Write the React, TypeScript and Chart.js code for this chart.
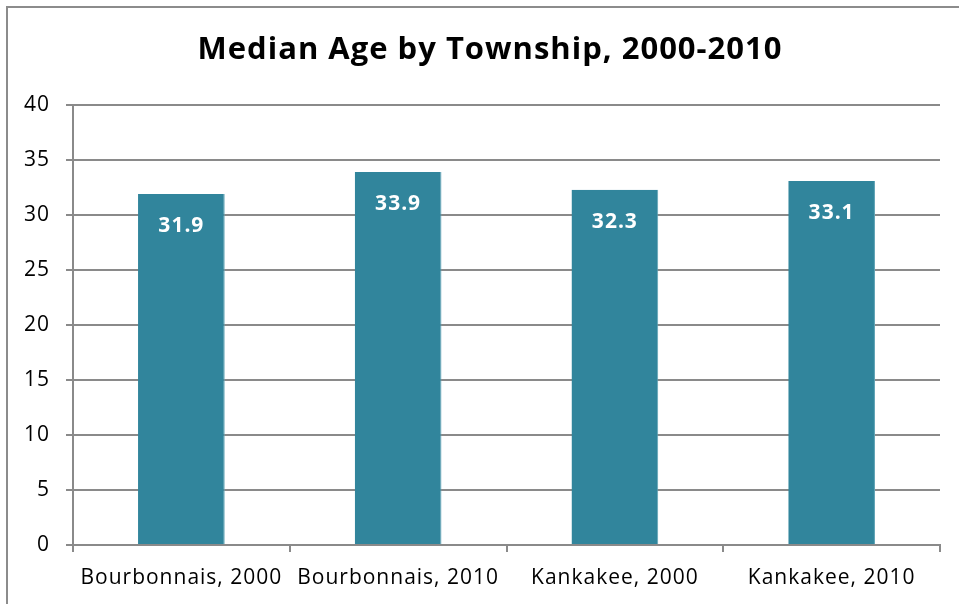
import React, { useEffect, useRef } from "react";
import { Chart, registerables } from "chart.js";

Chart.register(...registerables);

const titleText = "Median Age by Township, 2000-2010";
const categories = ["Bourbonnais, 2000", "Bourbonnais, 2010", "Kankakee, 2000", "Kankakee, 2010"];
const medianAges = [31.9, 33.9, 32.3, 33.1];
const yMin = 0;
const yMax = 40;
const yStep = 5;

const FONT = "'Open Sans', sans-serif";
const GRID = "#8a8a8a";
const BAR = "#31859c";

const decorPlugin = {
  id: "decor",
  beforeDraw(chart: any) {
    const ctx = chart.ctx;
    ctx.save();
    ctx.fillStyle = "#ffffff";
    ctx.fillRect(0, 0, chart.width, chart.height);
    ctx.strokeStyle = "#8c8c8c";
    ctx.lineWidth = 2;
    ctx.strokeRect(7, 7, chart.width + 20, chart.height + 20);
    ctx.fillStyle = "#000000";
    ctx.font = `bold 31px ${FONT}`;
    (ctx as any).letterSpacing = "1px";
    ctx.textAlign = "center";
    ctx.textBaseline = "middle";
    ctx.fillText(titleText, 490, 50);
    ctx.restore();
    (ctx as any).letterSpacing = "1px";
  },
  afterDatasetsDraw(chart: any) {
    const ctx = chart.ctx;
    const meta = chart.getDatasetMeta(0);
    ctx.save();
    ctx.fillStyle = "#ffffff";
    ctx.font = `bold 21px ${FONT}`;
    (ctx as any).letterSpacing = "1px";
    ctx.textAlign = "center";
    ctx.textBaseline = "middle";
    meta.data.forEach((bar: any, i: number) => {
      const v = chart.data.datasets[0].data[i];
      ctx.fillText(Number(v).toFixed(1), bar.x, bar.y + 32);
    });
    ctx.restore();
  },
};

export default function App() {
  const ref = useRef<HTMLCanvasElement>(null);
  useEffect(() => {
    document.body.style.margin = "0";
    const chart = new Chart(ref.current!, {
      type: "bar",
      data: {
        labels: categories,
        datasets: [
          {
            data: medianAges,
            backgroundColor: BAR,
            borderColor: "#5fa3b5",
            borderWidth: { right: 1, left: 0, top: 0, bottom: 0 } as any,
            barPercentage: 0.4,
            categoryPercentage: 1,
          },
        ],
      },
      options: {
        animation: false,
        responsive: false,
        devicePixelRatio: 1,
        layout: { padding: { top: 105, left: 0, right: 19, bottom: 0 } },
        plugins: { legend: { display: false }, title: { display: false }, tooltip: { enabled: false } },
        scales: {
          x: {
            offset: true,
            grid: { offset: true, drawOnChartArea: false, drawTicks: true, tickLength: 7, color: GRID, lineWidth: 2 },
            border: { color: GRID, width: 2 },
            ticks: { color: "#000", font: { family: FONT, size: 21 }, padding: 13, maxRotation: 0, autoSkip: false },
            afterFit(scale: any) {
              scale.height = 59;
            },
          },
          y: {
            min: yMin,
            max: yMax,
            ticks: { stepSize: yStep, color: "#000", font: { family: FONT, size: 21 }, padding: 16 },
            grid: { color: GRID, lineWidth: 2, tickLength: 7, drawTicks: true },
            border: { color: GRID, width: 2 },
            afterFit(scale: any) {
              scale.width = 73;
            },
          },
        },
      },
      plugins: [decorPlugin],
    });
    return () => chart.destroy();
  }, []);
  return (
    <div style={{ position: "fixed", left: 0, top: 0, width: 959, height: 604 }}>
      <canvas ref={ref} width={959} height={604} style={{ width: 959, height: 604, display: "block" }} />
    </div>
  );
}
